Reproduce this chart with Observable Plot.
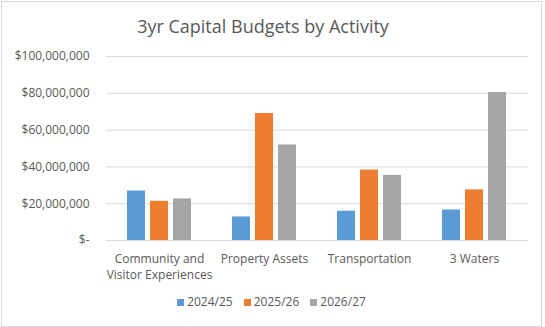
<!DOCTYPE html>
<html>
<head>
<meta charset="utf-8">
<script src="https://cdn.jsdelivr.net/npm/d3@7"></script>
<script src="https://cdn.jsdelivr.net/npm/@observablehq/plot@0.6"></script>
<style>
  html, body { margin: 0; padding: 0; background: #fff; }
  #wrap { position: relative; width: 545px; height: 327px; overflow: hidden; font-family: "Open Sans", sans-serif; }
  #border { position: absolute; left: 1px; top: 1px; width: 539px; height: 324px; border: 1px solid #d9d9d9; }
  #title { position: absolute; left: 0; top: 15px; width: 526px; text-align: center; font-size: 18px; line-height: 22px; color: #595959; }
  .layer { position: absolute; left: 0; top: 0; }
  #legend { position: absolute; left: 0; top: 294px; width: 543px; display: flex; justify-content: center; gap: 11px; font-size: 12px; line-height: 16px; color: #595959; }
  .item { display: flex; align-items: center; gap: 3px; }
  .sw { width: 7px; height: 7px; display: inline-block; }
</style>
</head>
<body>
<div id="wrap">
  <div id="border"></div>
  <div id="base" class="layer"></div>
  <div id="bars" class="layer"></div>
  <div id="title"></div>
  <div id="legend"></div>
</div>
<script>
const titleText = "3yr Capital Budgets by Activity";
const categories = ["Community and Visitor Experiences", "Property Assets", "Transportation", "3 Waters"];
const categoryLabels = ["Community and\nVisitor Experiences", "Property Assets", "Transportation", "3 Waters"];
const series = ["2024/25", "2025/26", "2026/27"];
const values2024 = [26.9e6, 12.8e6, 15.9e6, 16.6e6];
const values2025 = [21.3e6, 69.0e6, 38.3e6, 27.5e6];
const values2026 = [22.6e6, 51.9e6, 35.4e6, 80.4e6];
const yTicks = [0, 20e6, 40e6, 60e6, 80e6, 100e6];
const colors = ["#5B9BD5", "#ED7D31", "#A5A5A5"];

const seriesValues = [values2024, values2025, values2026];
const data = [];
categories.forEach((c, i) => {
  series.forEach((s, j) => data.push({cat: c, series: s, value: seriesValues[j][i]}));
});
const fmt = d => d === 0 ? "$-" : "$" + d3.format(",")(d);
const labelOf = c => categoryLabels[categories.indexOf(c)];

const common = {
  width: 545,
  height: 327,
  marginTop: 56,
  marginBottom: 87,
  marginLeft: 106,
  marginRight: 17,
  style: {fontFamily: "Open Sans, sans-serif", fontSize: "12px", color: "#595959", background: "transparent"},
  y: {domain: [0, 100e6], axis: null}
};

const base = Plot.plot({
  ...common,
  x: {domain: [0, 1], axis: null},
  marks: [
    Plot.ruleY(yTicks, {y: d => d, stroke: "#d9d9d9", strokeWidth: 1}),
    Plot.text(yTicks, {y: d => d, text: fmt, frameAnchor: "left", textAnchor: "end", dx: -17, fill: "#595959"})
  ]
});

const bars = Plot.plot({
  ...common,
  fx: {domain: categories, paddingInner: 0.388, paddingOuter: 0.194, label: null},
  x: {domain: series, paddingInner: 0.23, paddingOuter: 0, axis: null},
  color: {domain: series, range: colors},
  marks: [
    Plot.barY(data, {fx: "cat", x: "series", y: "value", fill: "series"}),
    Plot.axisFx({anchor: "bottom", tickSize: 0, tickPadding: 11, lineHeight: 1.35, tickFormat: labelOf, label: null, fill: "#595959"})
  ]
});

document.getElementById("base").appendChild(base);
document.getElementById("bars").appendChild(bars);
document.getElementById("title").textContent = titleText;
const legend = document.getElementById("legend");
series.forEach((s, i) => {
  const it = document.createElement("div");
  it.className = "item";
  const sw = document.createElement("span");
  sw.className = "sw";
  sw.style.background = colors[i];
  const t = document.createElement("span");
  t.textContent = s;
  it.appendChild(sw); it.appendChild(t);
  legend.appendChild(it);
});
</script>
</body>
</html>
